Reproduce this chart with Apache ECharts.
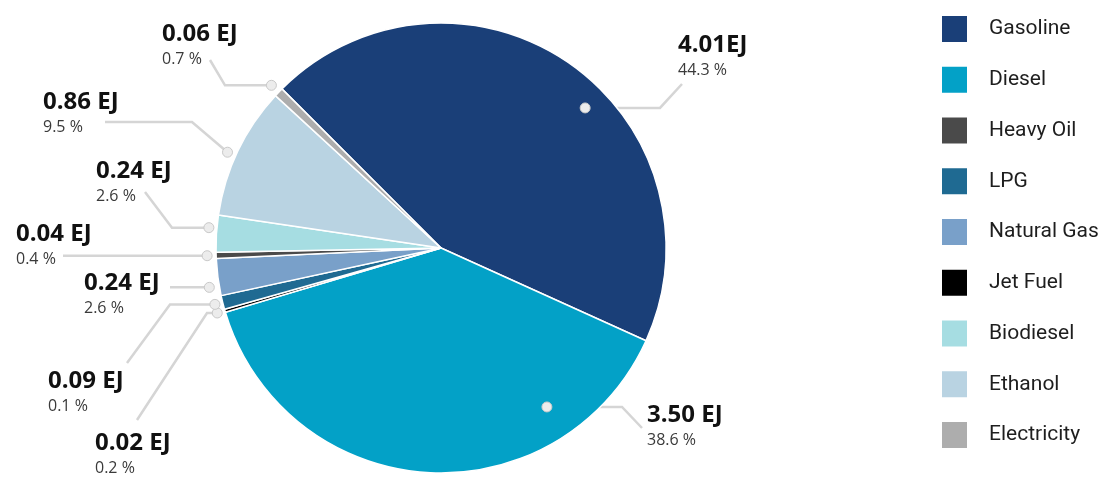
<!DOCTYPE html>
<html>
<head>
<meta charset="utf-8">
<title>Transport energy by fuel</title>
<script src="https://cdn.jsdelivr.net/npm/echarts@6/dist/echarts.min.js"></script>
<style>
  html, body { margin: 0; padding: 0; background: #ffffff; }
  #chart { width: 1108px; height: 477px; }
</style>
</head>
<body>
<div id="chart"></div>
<script>
// Fuels in the order the slices run clockwise from the top
const fuels = ['Gasoline', 'Diesel', 'Jet Fuel', 'LPG', 'Natural Gas', 'Heavy Oil', 'Biodiesel', 'Ethanol', 'Electricity'];
// Energy use, EJ
const energyEJ = [4.01, 3.50, 0.02, 0.09, 0.24, 0.04, 0.24, 0.86, 0.06];
// Share labels as printed under each value
const shareText = ['44.3 %', '38.6 %', '0.2 %', '0.1 %', '2.6 %', '0.4 %', '2.6 %', '9.5 %', '0.7 %'];
// Legend order
const legendOrder = ['Gasoline', 'Diesel', 'Heavy Oil', 'LPG', 'Natural Gas', 'Jet Fuel', 'Biodiesel', 'Ethanol', 'Electricity'];
const fuelColors = {
  'Gasoline': '#1a3f78',
  'Diesel': '#03a1c7',
  'Heavy Oil': '#4a4a4a',
  'LPG': '#1f6a92',
  'Natural Gas': '#79a0c9',
  'Jet Fuel': '#000000',
  'Biodiesel': '#a6dde2',
  'Ethanol': '#b9d3e2',
  'Electricity': '#adadad'
};

// Pie geometry
const CX = 441, CY = 248, R = 225, START = 135;

// Callout layout per slice: text position (left x, middle of value line),
// anchor (fraction along the slice, distance from centre), and the
// leader path after the anchor (null y = stay level with the anchor).
const callouts = [
  { tx: 678, ty: 45,  t: 0.57, r: 201, path: [[660, null], [682, 84]] },
  { tx: 647, ty: 415, t: 0.23, r: 191, path: [[622, null], [642, 428]] },
  { tx: 95,  ty: 443, t: 0.50, r: 233, path: [[207, null], [137, 420]] },
  { tx: 48,  ty: 381, t: 0.50, r: 233, path: [[170, null], [127, 363]] },
  { tx: 84,  ty: 283, t: 0.27, r: 235, path: [[170, null]] },
  { tx: 16,  ty: 234, t: 0.50, r: 234, path: [[63, null]] },
  { tx: 96,  ty: 171, t: 0.64, r: 233, path: [[172, null], [145, 192]] },
  { tx: 43,  ty: 102, t: 0.46, r: 234, path: [[192, 122], [105, 122]] },
  { tx: 162, ty: 34,  t: 0.50, r: 235, path: [[225, null], [210, 60]] }
];

const total = energyEJ.reduce((a, b) => a + b, 0);
const anchors = [];
let cur = START;
energyEJ.forEach((v, i) => {
  const span = v / total * 360;
  const a = (cur - callouts[i].t * span) * Math.PI / 180;
  anchors.push([CX + callouts[i].r * Math.cos(a), CY - callouts[i].r * Math.sin(a)]);
  cur -= span;
});

function leaderPoints(i) {
  const p = anchors[i];
  const pts = [[p[0], p[1]]];
  callouts[i].path.forEach(q => pts.push([q[0], q[1] === null ? p[1] : q[1]]));
  return pts;
}

const chart = echarts.init(document.getElementById('chart'), null, { renderer: 'canvas' });

chart.setOption({
  animation: false,
  backgroundColor: '#ffffff',
  legend: {
    orient: 'vertical',
    left: 940,
    top: 14,
    padding: 0,
    icon: 'rect',
    itemWidth: 27,
    itemHeight: 28,
    itemGap: 20.75,
    data: legendOrder,
    selectedMode: false,
    textStyle: {
      fontFamily: 'Roboto',
      fontSize: 21,
      lineHeight: 28,
      color: '#1e1e1e',
      padding: [0, 0, 0, 16]
    }
  },
  graphic: anchors.map(p => ({
    type: 'circle',
    z: 100,
    shape: { cx: p[0], cy: p[1], r: 5 },
    style: { fill: '#ececec', stroke: '#c9c9c9', lineWidth: 1 }
  })),
  series: [{
    type: 'pie',
    center: [CX, CY],
    radius: R,
    startAngle: START,
    clockwise: true,
    avoidLabelOverlap: false,
    emphasis: { disabled: true },
    itemStyle: { borderColor: '#ffffff', borderWidth: 1.5 },
    data: fuels.map((name, i) => ({
      name: name,
      value: energyEJ[i],
      itemStyle: { color: fuelColors[name] }
    })),
    label: {
      show: true,
      position: 'outside',
      formatter: p => '{v|' + energyEJ[p.dataIndex].toFixed(2) + (p.dataIndex === 0 ? 'EJ' : ' EJ') +
        '}\n{p|' + shareText[p.dataIndex] + '}',
      rich: {
        v: { fontFamily: 'Open Sans', fontWeight: 700, fontSize: 24, lineHeight: 30, color: '#111111' },
        p: { fontFamily: 'Open Sans', fontSize: 16, lineHeight: 20, color: '#3a3a3a' }
      }
    },
    labelLine: {
      show: true,
      lineStyle: { color: '#d5d5d5', width: 2.5 }
    },
    labelLayout: function (params) {
      const i = params.dataIndex;
      return {
        x: callouts[i].tx,
        y: callouts[i].ty - 15,
        align: 'left',
        verticalAlign: 'top',
        labelLinePoints: leaderPoints(i)
      };
    }
  }]
});
</script>
</body>
</html>
